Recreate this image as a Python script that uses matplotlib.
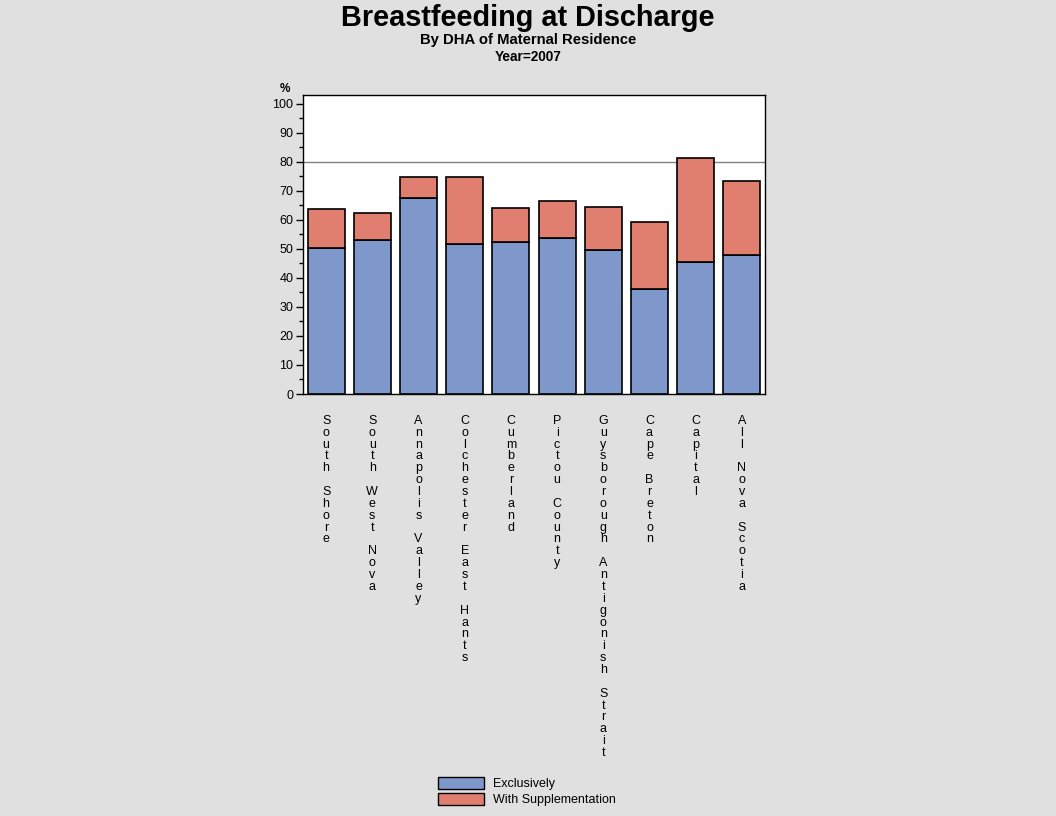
import matplotlib
matplotlib.use("Agg")
import matplotlib.pyplot as plt
from matplotlib.patches import Patch
import numpy as np

plt.rcParams['font.family'] = ['Liberation Sans', 'DejaVu Sans']

# Datos
regiones = ["South Shore", "South West Nova", "Annapolis Valley", "Colchester East Hants",
            "Cumberland", "Pictou County", "Guysborough Antigonish Strait", "Cape Breton",
            "Capital", "All Nova Scotia"]
exclusivo = [50.3, 53.0, 67.5, 51.7, 52.4, 53.7, 49.6, 36.1, 45.5, 47.9]
total = [63.8, 62.4, 74.8, 74.8, 64.1, 66.5, 64.4, 59.3, 81.4, 73.5]
suplemento = [t - e for t, e in zip(total, exclusivo)]
meta = 80

fondo = "#e0e0e0"
azul = "#7e98cc"
rojo = "#e07f70"

fig = plt.figure(figsize=(10.56, 8.16), dpi=100, facecolor=fondo)
ax = fig.add_axes([303 / 1056, 1 - 394 / 816, 462 / 1056, 299 / 816])

x = np.arange(len(regiones))
ax.bar(x, exclusivo, width=0.8, color=azul, edgecolor="black", linewidth=1.2, zorder=3)
ax.bar(x, suplemento, width=0.8, bottom=exclusivo, color=rojo, edgecolor="black", linewidth=1.2, zorder=3)
ax.axhline(meta, color="#808080", linewidth=1, zorder=2)

ax.set_xlim(-0.5, len(regiones) - 0.5)
ax.set_ylim(0, 103.1)
ax.set_yticks(range(0, 101, 10))
ax.set_yticks(range(5, 101, 10), minor=True)
ax.tick_params(axis="y", which="major", length=5, width=1, labelsize=9, pad=2)
ax.tick_params(axis="y", which="minor", length=3, width=1)
for s in ax.spines.values():
    s.set_linewidth(1)

# etiquetas verticales, letra por letra
etiquetas = ["\n".join(list(r)) for r in regiones]
ax.set_xticks(x)
ax.set_xticklabels(etiquetas, fontsize=9, linespacing=0.985, va="top")
ax.tick_params(axis="x", length=0, pad=15)

ax.text(-0.04, 1.0, "%", transform=ax.transAxes, fontsize=8.5, fontweight="bold",
        ha="center", va="bottom")

fig.text(0.5, 1 - 26 / 816, "Breastfeeding at Discharge", ha="center", va="baseline",
         fontsize=20.8, fontweight="bold")
fig.text(0.5, 1 - 44 / 816, "By DHA of Maternal Residence", ha="center", va="baseline",
         fontsize=10.7, fontweight="bold")
fig.text(0.5, 1 - 61 / 816, "Year=2007", ha="center", va="baseline",
         fontsize=9.8, fontweight="bold")

handles = [Patch(facecolor=azul, edgecolor="black", label="Exclusively"),
           Patch(facecolor=rojo, edgecolor="black", label="With Supplementation")]
fig.legend(handles=handles, loc="lower left", bbox_to_anchor=(429 / 1056, 1 / 816),
           frameon=False, fontsize=9, handlelength=3.7, handleheight=1.1,
           labelspacing=0.25, handletextpad=0.7, borderpad=0.2)

fig.savefig("out.png", dpi=100, facecolor=fondo)
